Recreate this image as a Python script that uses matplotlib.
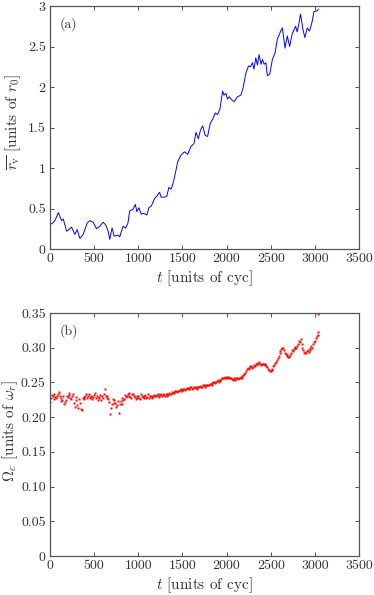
import numpy as np
import matplotlib
matplotlib.use("Agg")
import matplotlib.pyplot as plt

plt.rcParams['font.family'] = 'serif'
plt.rcParams['font.serif'] = ['cmr10', 'DejaVu Serif']
plt.rcParams['mathtext.fontset'] = 'cm'
plt.rcParams['axes.formatter.use_mathtext'] = True

# ---- panel (a): mean vortex radius ----
t_a = [0, 15, 40, 60, 94, 131, 150, 188, 215, 244, 282, 308, 338, 376, 421, 451, 489,
       526, 564, 601, 630, 658, 677, 703, 726, 771, 790, 827, 857, 883, 902, 940, 966,
       985, 1007, 1034, 1060, 1098, 1120, 1147, 1184, 1222, 1241, 1259, 1297, 1323, 1346,
       1372, 1391, 1417, 1447, 1485, 1523, 1560, 1598, 1630, 1654, 1680, 1705, 1729, 1759,
       1785, 1815, 1842, 1872, 1898, 1925, 1955, 1970, 1992, 2010, 2030, 2060, 2086, 2124,
       2162, 2188, 2218, 2248, 2270, 2293, 2310, 2331, 2350, 2368, 2390, 2406, 2425, 2445,
       2462, 2489, 2519, 2549, 2575, 2613, 2632, 2662, 2688, 2714, 2744, 2782, 2800, 2820,
       2838, 2865, 2887, 2914, 2940, 2970, 2989, 3026, 3040]
r_a = [0.33, 0.31, 0.33, 0.36, 0.45, 0.35, 0.37, 0.22, 0.24, 0.27, 0.18, 0.24, 0.13, 0.18,
       0.32, 0.35, 0.33, 0.25, 0.28, 0.33, 0.30, 0.22, 0.12, 0.26, 0.16, 0.17, 0.15, 0.28,
       0.26, 0.32, 0.47, 0.49, 0.55, 0.46, 0.51, 0.43, 0.44, 0.42, 0.51, 0.53, 0.62, 0.67,
       0.70, 0.64, 0.64, 0.65, 0.76, 0.74, 0.80, 0.92, 1.08, 1.16, 1.20, 1.17, 1.27, 1.30,
       1.44, 1.36, 1.47, 1.52, 1.40, 1.39, 1.55, 1.60, 1.68, 1.66, 1.73, 1.95, 1.90, 1.92,
       1.85, 1.88, 1.84, 1.82, 1.88, 1.90, 1.99, 2.17, 2.26, 2.25, 2.30, 2.22, 2.36, 2.27,
       2.40, 2.28, 2.34, 2.28, 2.30, 2.14, 2.16, 2.34, 2.42, 2.59, 2.69, 2.73, 2.48, 2.63,
       2.50, 2.66, 2.75, 2.68, 2.79, 2.90, 2.71, 2.61, 2.73, 2.69, 2.81, 2.93, 2.94, 2.96]

# ---- panel (b): precession frequency (even samples t=0,20,...; odd samples t=10,30,...) ----
t_b_even = list(range(0, 3041, 20)) + [3035]
omega_b_even = [0.222, 0.232, 0.226, 0.229, 0.231, 0.236, 0.228, 0.225, 0.219, 0.224,
                0.229, 0.232, 0.226, 0.233, 0.215, 0.229, 0.213, 0.221, 0.210, 0.226,
                0.231, 0.228, 0.233, 0.229, 0.226, 0.232, 0.227, 0.225, 0.229, 0.224,
                0.228, 0.240, 0.231, 0.226, 0.205, 0.219, 0.224, 0.221, 0.218, 0.206,
                0.223, 0.219, 0.226, 0.229, 0.233, 0.231, 0.228, 0.234, 0.229, 0.227,
                0.230, 0.226, 0.231, 0.228, 0.232, 0.229, 0.227, 0.231, 0.229, 0.232,
                0.230, 0.233, 0.229, 0.232, 0.234, 0.231, 0.233, 0.232, 0.234, 0.236,
                0.235, 0.237, 0.236, 0.238, 0.240, 0.239, 0.241, 0.240, 0.242, 0.241,
                0.243, 0.242, 0.244, 0.241, 0.243, 0.245, 0.244, 0.246, 0.245, 0.247,
                0.246, 0.248, 0.249, 0.250, 0.251, 0.253, 0.252, 0.255, 0.257, 0.258,
                0.257, 0.258, 0.256, 0.255, 0.256, 0.254, 0.257, 0.256, 0.258, 0.259,
                0.262, 0.266, 0.271, 0.272, 0.273, 0.272, 0.274, 0.277, 0.278, 0.277,
                0.276, 0.277, 0.275, 0.272, 0.268, 0.267, 0.270, 0.275, 0.280, 0.285,
                0.292, 0.298, 0.300, 0.293, 0.290, 0.287, 0.289, 0.296, 0.298, 0.301,
                0.303, 0.310, 0.313, 0.300, 0.293, 0.292, 0.296, 0.297, 0.302, 0.305,
                0.310, 0.317, 0.322, 0.349]
t_b_odd = list(range(10, 3031, 20))
omega_b_odd = [0.228, 0.230, 0.233, 0.227, 0.234, 0.230, 0.223, 0.231, 0.222, 0.230,
               0.235, 0.228, 0.231, 0.221, 0.224, 0.218, 0.226, 0.212, 0.228, 0.229,
               0.234, 0.230, 0.228, 0.231, 0.229, 0.235, 0.230, 0.227, 0.232, 0.230,
               0.233, 0.230, 0.228, 0.222, 0.213, 0.226, 0.220, 0.215, 0.223, 0.219,
               0.228, 0.225, 0.232, 0.230, 0.235, 0.229, 0.233, 0.231, 0.226, 0.231,
               0.228, 0.233, 0.229, 0.230, 0.228, 0.233, 0.230, 0.228, 0.231, 0.230,
               0.232, 0.230, 0.233, 0.231, 0.232, 0.234, 0.231, 0.235, 0.233, 0.235,
               0.236, 0.238, 0.237, 0.239, 0.238, 0.241, 0.239, 0.242, 0.240, 0.243,
               0.241, 0.243, 0.242, 0.244, 0.244, 0.243, 0.246, 0.244, 0.247, 0.246,
               0.248, 0.247, 0.250, 0.249, 0.252, 0.251, 0.254, 0.256, 0.256, 0.257,
               0.258, 0.256, 0.257, 0.254, 0.255, 0.256, 0.255, 0.257, 0.257, 0.260,
               0.264, 0.269, 0.270, 0.274, 0.271, 0.275, 0.276, 0.276, 0.279, 0.275,
               0.277, 0.276, 0.273, 0.270, 0.266, 0.268, 0.273, 0.278, 0.282, 0.288,
               0.295, 0.299, 0.296, 0.291, 0.288, 0.286, 0.293, 0.295, 0.300, 0.299,
               0.306, 0.308, 0.305, 0.296, 0.294, 0.295, 0.294, 0.300, 0.299, 0.308,
               0.314, 0.319]

xticks = [0, 500, 1000, 1500, 2000, 2500, 3000, 3500]
yticks_a = [0, 0.5, 1, 1.5, 2, 2.5, 3]
yticklabels_a = ['0', '0.5', '1', '1.5', '2', '2.5', '3']
yticks_b = [0, 0.05, 0.10, 0.15, 0.20, 0.25, 0.30, 0.35]
yticklabels_b = ['0', '0.05', '0.10', '0.15', '0.20', '0.25', '0.30', '0.35']

W, H = 374, 595
fig = plt.figure(figsize=(W / 100, H / 100), dpi=100)
ax1 = fig.add_axes([50 / W, 1 - 249 / H, 309 / W, 243 / H])
ax2 = fig.add_axes([50 / W, 1 - 556 / H, 309 / W, 243 / H])

ax1.plot(t_a, r_a, color='#0000ff', lw=0.7)
ax2.plot(t_b_even, omega_b_even, linestyle='none', marker='s', ms=1.4, mec='none', color='#ff0000')
ax2.plot(t_b_odd, omega_b_odd, linestyle='none', marker='s', ms=1.4, mec='none', color='#ff0000')

spine_col = '#555555'
for ax, yt, ytl, ylim in [(ax1, yticks_a, yticklabels_a, (0, 3)),
                          (ax2, yticks_b, yticklabels_b, (0, 0.35))]:
    ax.set_xlim(0, 3500)
    ax.set_ylim(*ylim)
    ax.set_xticks(xticks)
    ax.set_xticklabels([str(v) for v in xticks])
    ax.set_yticks(yt)
    ax.set_yticklabels(ytl)
    ax.tick_params(direction='in', top=True, right=True, length=3, width=0.6,
                   labelsize=10, colors='#333333', pad=3)
    for s in ax.spines.values():
        s.set_color(spine_col)
        s.set_linewidth(0.9)
    ax.set_xlabel(r'$t$ [units of cyc]', fontsize=11, color='#333333', labelpad=2)

ax1.set_ylabel(r'$\overline{r_{\rm v}}$ [units of $r_0$]', fontsize=11, color='#333333')
ax2.set_ylabel(r'$\Omega_c$ [units of $\omega_r$]', fontsize=11, color='#333333')
ax1.yaxis.set_label_coords(23 / W, 1 - 122 / H, transform=fig.transFigure)
ax2.yaxis.set_label_coords(20 / W, 1 - 431 / H, transform=fig.transFigure)

ax1.text(0.03, 0.955, '(a)', transform=ax1.transAxes, fontsize=10, va='top', color='#333333')
ax2.text(0.03, 0.955, '(b)', transform=ax2.transAxes, fontsize=10, va='top', color='#333333')

fig.savefig('out.png', dpi=100)
